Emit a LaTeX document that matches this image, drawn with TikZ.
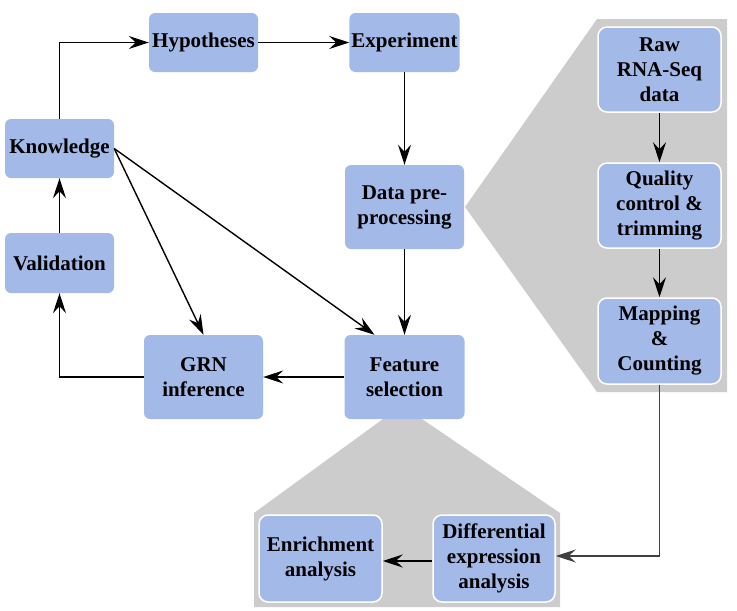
\documentclass[tikz,border=0pt]{standalone}
\usepackage{fontspec}
\setmainfont{Liberation Serif}
\usetikzlibrary{arrows.meta}
\definecolor{boxblue}{RGB}{163,186,233}
\definecolor{panelgray}{RGB}{204,204,204}
\tikzset{
  box/.style={fill=boxblue, rounded corners=6pt, align=center, inner sep=2pt,
    font=\fontsize{21}{25}\selectfont\bfseries},
  innerbox/.style={box, draw=white, line width=1.5pt, rounded corners=9pt},
  conn/.style={line width=1.4pt, -{Stealth[length=20pt,width=13pt,inset=7pt]}},
}
\begin{document}
\begin{tikzpicture}[x=1pt,y=-1pt]
\useasboundingbox (0,0) rectangle (737,611);
% gray panels
\fill[panelgray] (597,19) -- (727,19) -- (727,392) -- (597,392) -- (465,207) -- cycle;
\fill[panelgray] (383,419) -- (422,419) -- (560,513) -- (560,607) -- (254,607) -- (254,513) -- cycle;
% main nodes
\node[box, minimum width=109pt, minimum height=59pt] (hyp) at (203.5,42.5) {Hypotheses};
\node[box, minimum width=109pt, minimum height=59pt] (exp) at (404.5,42.5) {Experiment};
\node[box, minimum width=109pt, minimum height=59pt] (know) at (59.5,148.5) {Knowledge};
\node[box, minimum width=119pt, minimum height=84pt] (dpp) at (404.5,207) {Data pre-\\processing};
\node[box, minimum width=109pt, minimum height=60pt] (val) at (59.5,263) {Validation};
\node[box, minimum width=119pt, minimum height=84pt] (grn) at (203.5,377) {GRN\\inference};
\node[box, minimum width=120pt, minimum height=84pt] (fs) at (404.5,377) {Feature\\selection};
% right panel nodes
\node[innerbox, minimum width=123pt, minimum height=85pt] (raw) at (659.5,69.5) {Raw\\RNA-Seq\\data};
\node[innerbox, minimum width=123pt, minimum height=85pt] (qc) at (659.5,205.5) {Quality\\control \&\\trimming};
\node[innerbox, minimum width=123pt, minimum height=86pt] (map) at (659.5,341) {Mapping\\\&\\Counting};
% bottom panel nodes
\node[innerbox, minimum width=123pt, minimum height=87pt] (enr) at (320.5,558.5) {Enrichment\\analysis};
\node[innerbox, minimum width=122pt, minimum height=87pt] (diff) at (494,558.5) {Differential\\expression\\analysis};
% connectors
\draw[conn] (know.north) |- (hyp.west);
\draw[conn] (hyp.east) -- (exp.west);
\draw[conn] (exp.south) -- (dpp.north);
\draw[conn] (dpp.south) -- (fs.north);
\draw[conn] (fs.west) -- (grn.east);
\draw[conn] (grn.west) -| (val.south);
\draw[conn] (val.north) -- (know.north |- know.south);
\draw[conn] (know.east) -- (grn.north);
\draw[conn] (know.east) -- ([xshift=-30pt]fs.north);
\draw[conn] (raw.south) -- (qc.north);
\draw[conn] (qc.south) -- (map.north);
\draw[conn, draw=black!75] (map.south) |- ([yshift=2.5pt]diff.east);
\draw[conn] (diff.west |- 0,561) -- (enr.east |- 0,561);
\end{tikzpicture}
\end{document}
